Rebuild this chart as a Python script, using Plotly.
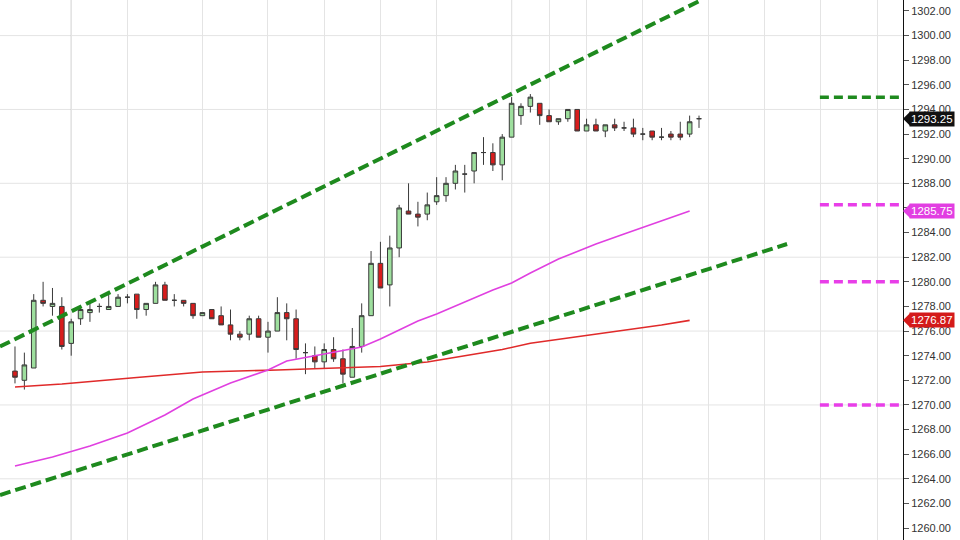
import plotly.graph_objects as go

# ---------------- data ----------------
opens = [1272.75, 1272.0, 1273.0, 1278.5, 1278.0, 1278.0, 1275.0, 1277.0, 1277.5, 1278.0,
         1277.75, 1278.0, 1278.75, 1279.0, 1277.75, 1278.25, 1279.75, 1278.5, 1278.5, 1278.25,
         1277.25, 1277.75, 1277.25, 1276.5, 1275.75, 1275.75, 1277.0, 1275.5, 1276.0, 1277.5,
         1277.0, 1274.25, 1274.0, 1273.5, 1274.5, 1273.75, 1272.25, 1274.75, 1277.25, 1281.5,
         1279.75, 1282.75, 1285.75, 1285.5, 1285.5, 1286.5, 1287.0, 1288.0, 1288.75, 1289.0,
         1290.5, 1290.5, 1289.5, 1291.75, 1293.5, 1294.25, 1294.5, 1293.5, 1293.0, 1293.25,
         1294.0, 1292.25, 1292.75, 1292.25, 1292.75, 1292.5, 1292.5, 1292.0, 1292.25, 1291.75,
         1292.0, 1292.0, 1292.0, 1293.25]
highs = [1274.75, 1274.25, 1279.0, 1280.0, 1279.5, 1278.75, 1277.0, 1278.0, 1278.25, 1278.25,
         1279.0, 1279.0, 1279.0, 1279.0, 1278.25, 1280.0, 1280.0, 1279.0, 1278.5, 1278.25,
         1277.5, 1277.75, 1278.0, 1277.75, 1276.0, 1277.25, 1277.25, 1276.75, 1278.75, 1278.25,
         1277.75, 1275.0, 1274.75, 1275.0, 1275.5, 1274.5, 1276.25, 1278.25, 1282.5, 1283.25,
         1283.75, 1286.25, 1288.0, 1286.5, 1287.25, 1288.5, 1288.5, 1289.5, 1289.5, 1290.5,
         1291.75, 1291.25, 1292.0, 1295.0, 1294.5, 1295.25, 1294.5, 1294.0, 1293.25, 1294.0,
         1294.0, 1293.25, 1293.25, 1292.75, 1293.25, 1293.0, 1293.25, 1292.5, 1292.25, 1292.5,
         1292.25, 1293.0, 1293.5, 1293.5]
lows = [1271.75, 1271.25, 1273.0, 1278.0, 1277.25, 1274.5, 1274.0, 1276.5, 1276.75, 1277.5,
        1277.75, 1278.0, 1278.25, 1277.0, 1277.25, 1278.25, 1278.5, 1278.0, 1278.0, 1277.0,
        1277.25, 1277.0, 1276.5, 1275.25, 1275.25, 1275.25, 1275.5, 1274.25, 1276.0, 1275.25,
        1273.75, 1272.5, 1273.0, 1273.0, 1273.5, 1271.75, 1272.25, 1274.25, 1277.25, 1279.5,
        1278.0, 1282.0, 1285.5, 1284.5, 1285.0, 1286.25, 1286.5, 1287.5, 1287.25, 1288.0,
        1289.5, 1289.0, 1288.25, 1291.75, 1292.75, 1293.75, 1292.75, 1293.0, 1292.75, 1293.0,
        1292.25, 1292.25, 1292.25, 1291.75, 1292.25, 1292.25, 1291.75, 1291.5, 1291.5, 1291.5,
        1291.5, 1291.5, 1291.75, 1292.5]
closes = [1272.25, 1273.25, 1278.5, 1278.25, 1278.25, 1274.75, 1276.75, 1277.75, 1277.75, 1278.0,
          1278.0, 1278.75, 1278.75, 1277.75, 1278.25, 1279.75, 1278.5, 1278.5, 1278.25, 1277.25,
          1277.5, 1277.0, 1276.5, 1275.75, 1275.5, 1277.0, 1275.5, 1276.0, 1277.5, 1277.0,
          1274.5, 1274.25, 1273.5, 1274.5, 1273.75, 1272.5, 1274.75, 1277.25, 1281.5, 1279.5,
          1282.75, 1286.0, 1285.5, 1285.25, 1286.25, 1287.0, 1288.0, 1289.0, 1288.75, 1290.5,
          1290.5, 1289.5, 1291.75, 1294.5, 1294.25, 1295.0, 1293.5, 1293.0, 1293.25, 1294.0,
          1292.25, 1292.75, 1292.25, 1292.75, 1292.5, 1292.5, 1292.0, 1292.0, 1291.75, 1291.75,
          1291.75, 1291.75, 1293.0, 1293.25]
bar_index = list(range(len(opens)))

# moving averages (vertices)
ma_fast_x = [0, 4, 8, 12, 16, 19, 23, 27, 29, 32, 35, 37, 39, 41, 43, 45, 48, 51, 53, 55, 58, 62, 65, 69, 72]
ma_fast_y = [1265.04, 1265.77, 1266.66, 1267.72, 1269.18, 1270.48, 1271.78, 1272.84, 1273.57, 1273.97,
             1274.42, 1274.71, 1275.36, 1276.09, 1276.82, 1277.39, 1278.36, 1279.34, 1279.90, 1280.72,
             1281.85, 1283.07, 1283.88, 1284.94, 1285.75]
ma_slow_x = [0, 5, 13, 20, 28, 34, 39, 44, 48, 52, 55, 60, 65, 69, 72]
ma_slow_y = [1271.46, 1271.70, 1272.23, 1272.67, 1272.84, 1272.96, 1273.12, 1273.49, 1273.97, 1274.50,
             1275.01, 1275.52, 1276.09, 1276.49, 1276.87]

# trend channel lines (two anchor points each)
upper_trend_x = [-1.6, 73.1]
upper_trend_y = [1274.74, 1302.83]
lower_trend_x = [-1.6, 82.4]
lower_trend_y = [1262.68, 1283.07]

# horizontal levels on the right
level_values = [1295.0, 1286.25, 1280.0, 1270.0]
level_colors = ["#1e8a1e", "#e83ee8", "#e83ee8", "#e83ee8"]
level_start = 85.9

# price tags on the axis
tag_values = [1293.25, 1285.75, 1276.87]
tag_texts = ["1293.25", "1285.75", "1276.87"]
tag_colors = ["#111111", "#e23ee2", "#d41a1a"]

# grid
grid_x = [6, 12, 20, 27, 33, 39, 45, 53, 57, 61, 67, 74, 80, 86, 92]
session_x = [6, 53]
grid_y = [1264, 1270, 1276, 1282, 1288, 1294, 1300]

X_RANGE = [-1.6, 94.77]
Y_RANGE = [1259.03, 1302.89]

fig = go.Figure()

fig.add_trace(go.Scatter(x=ma_slow_x, y=ma_slow_y, mode="lines",
                         line=dict(color="#e02a2a", width=1.6), hoverinfo="skip", showlegend=False))
fig.add_trace(go.Scatter(x=ma_fast_x, y=ma_fast_y, mode="lines",
                         line=dict(color="#e040e0", width=1.6), hoverinfo="skip", showlegend=False))

fig.add_trace(go.Candlestick(
    x=bar_index, open=opens, high=highs, low=lows, close=closes,
    increasing=dict(line=dict(color="#3a3a3a", width=1), fillcolor="#9edf9e"),
    decreasing=dict(line=dict(color="#3a3a3a", width=1), fillcolor="#d81c1c"),
    whiskerwidth=0, showlegend=False, hoverinfo="skip"))

for tx, ty in [(upper_trend_x, upper_trend_y), (lower_trend_x, lower_trend_y)]:
    fig.add_trace(go.Scatter(x=tx, y=ty, mode="lines",
                             line=dict(color="#1e8a1e", width=4, dash="11px,5px"),
                             hoverinfo="skip", showlegend=False))

for v, c in zip(level_values, level_colors):
    fig.add_trace(go.Scatter(x=[level_start, X_RANGE[1]], y=[v, v], mode="lines",
                             line=dict(color=c, width=3.5, dash="9px,5px"),
                             hoverinfo="skip", showlegend=False))

shapes = []
for gy in grid_y:
    shapes.append(dict(type="line", xref="paper", yref="y", x0=0, x1=1, y0=gy, y1=gy,
                       line=dict(color="#e4e4e4", width=1), layer="below"))
for sx in session_x:
    shapes.append(dict(type="line", xref="x", yref="paper", x0=sx, x1=sx, y0=0, y1=1,
                       line=dict(color="#bdbdbd", width=1), layer="below"))

annotations = []
unit_per_px = (Y_RANGE[1] - Y_RANGE[0]) / 540.0
px_paper = 1.0 / 903.0
for v, t, c in zip(tag_values, tag_texts, tag_colors):
    h = 7 * unit_per_px
    shapes.append(dict(type="path", xref="paper", yref="y",
                       path=f"M 1,{v} L {1 + 7 * px_paper},{v + h} L {1 + 7 * px_paper},{v - h} Z",
                       fillcolor=c, line=dict(width=0), layer="above"))
    annotations.append(dict(x=1, xref="paper", y=v, yref="y", xanchor="left", yanchor="middle",
                            xshift=6, text=t, showarrow=False, bgcolor=c, borderpad=1,
                            font=dict(color="white", size=11.5, family="Arial, Liberation Sans")))

fig.update_layout(
    width=960, height=540,
    margin=dict(l=0, r=57, t=0, b=0),
    paper_bgcolor="white", plot_bgcolor="white",
    shapes=shapes, annotations=annotations,
    showlegend=False,
    xaxis=dict(range=X_RANGE, rangeslider=dict(visible=False), tickmode="array", tickvals=grid_x,
               showticklabels=False, ticks="", showgrid=True, gridcolor="#e4e4e4", gridwidth=1,
               zeroline=False, showline=False, fixedrange=True),
    yaxis=dict(range=Y_RANGE, side="right", tick0=1260, dtick=2, tickformat=".2f",
               showgrid=False, zeroline=False, showline=True, linecolor="#111111", linewidth=1,
               ticks="outside", ticklen=5, tickcolor="#555555",
               tickfont=dict(size=11, color="#333333", family="Arial, Liberation Sans")),
)

fig.write_html("out.html",
               config={"displayModeBar": False},
               post_script="document.body.style.margin='0px';document.body.style.overflow='hidden';")
